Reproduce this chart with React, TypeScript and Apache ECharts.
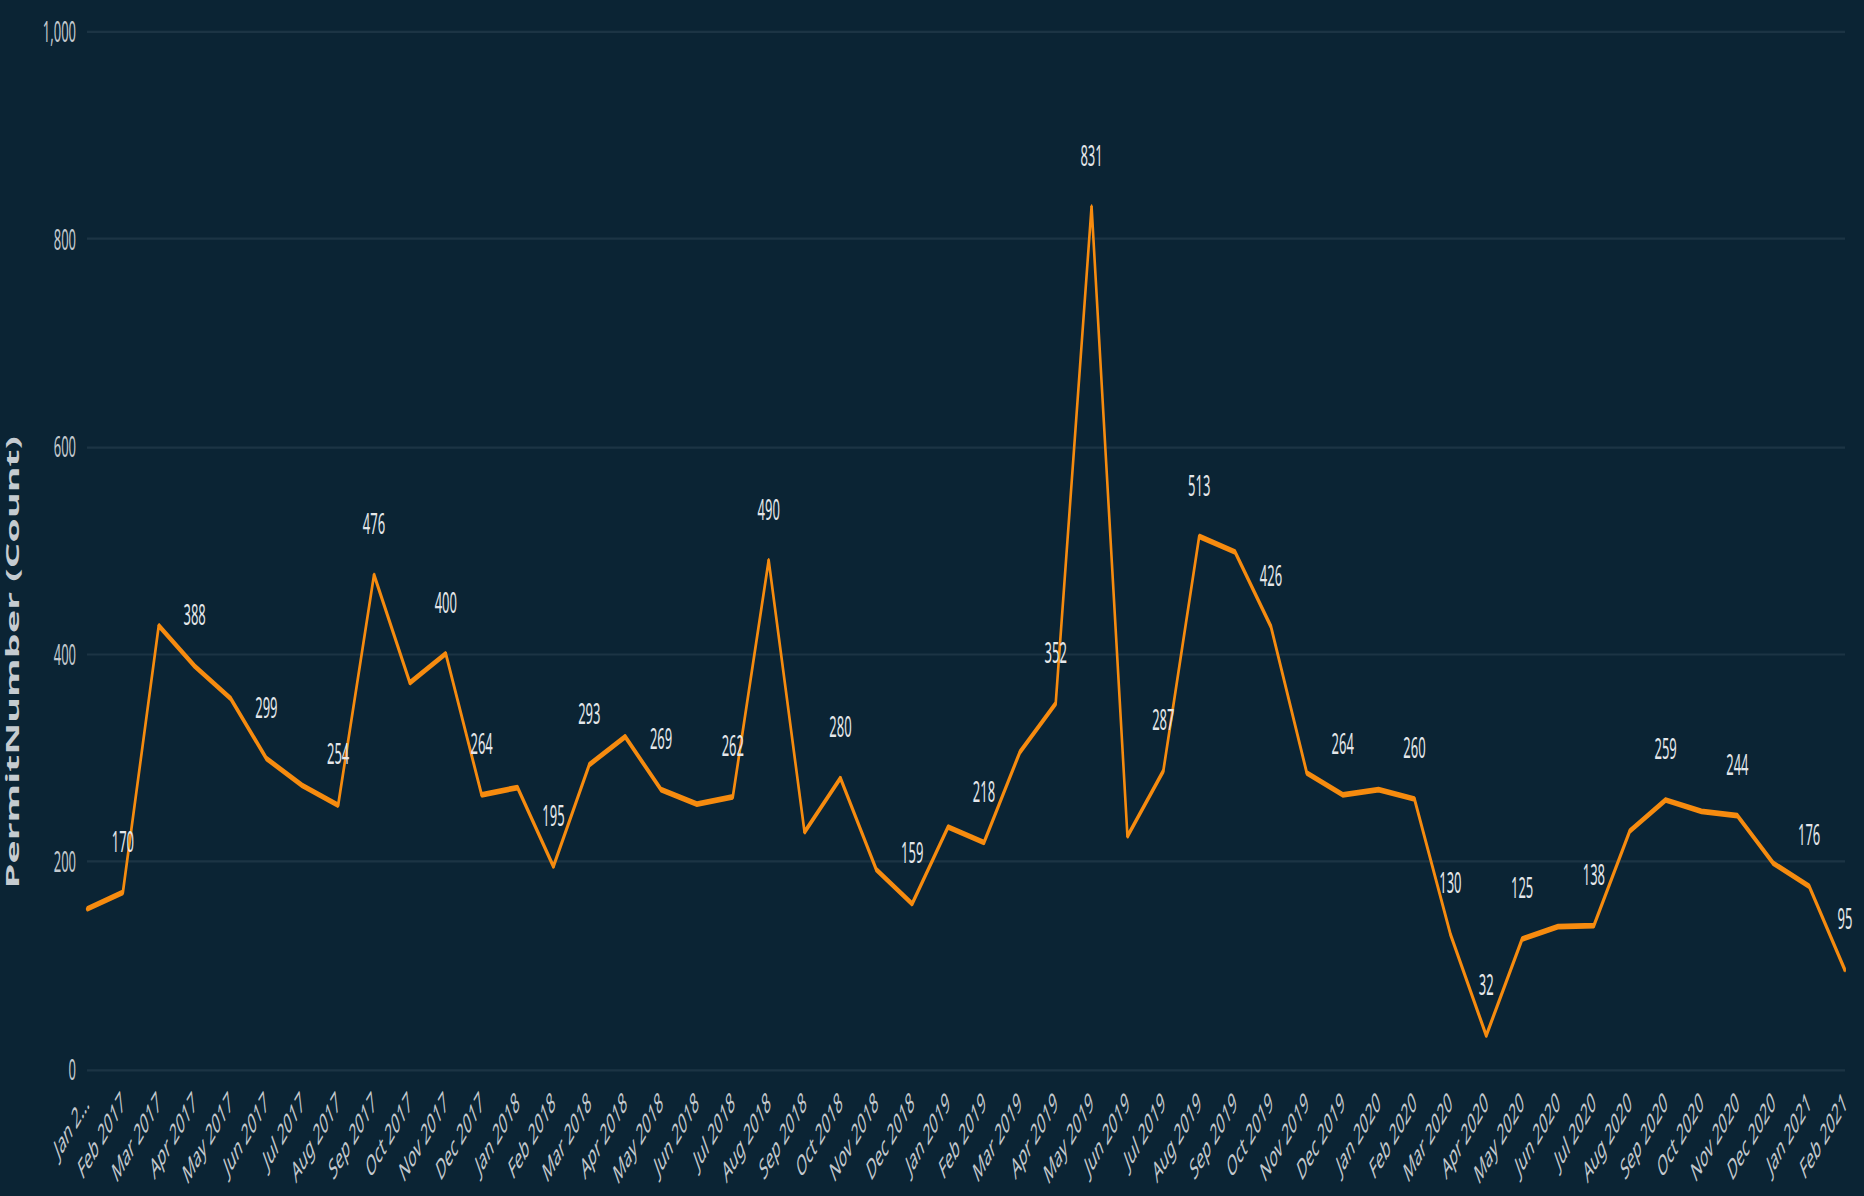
import React, { useEffect, useRef } from "react";
import * as echarts from "echarts";

// ---- data ----
const months: string[] = [
  "Jan 2017", "Feb 2017", "Mar 2017", "Apr 2017", "May 2017", "Jun 2017",
  "Jul 2017", "Aug 2017", "Sep 2017", "Oct 2017", "Nov 2017", "Dec 2017",
  "Jan 2018", "Feb 2018", "Mar 2018", "Apr 2018", "May 2018", "Jun 2018",
  "Jul 2018", "Aug 2018", "Sep 2018", "Oct 2018", "Nov 2018", "Dec 2018",
  "Jan 2019", "Feb 2019", "Mar 2019", "Apr 2019", "May 2019", "Jun 2019",
  "Jul 2019", "Aug 2019", "Sep 2019", "Oct 2019", "Nov 2019", "Dec 2019",
  "Jan 2020", "Feb 2020", "Mar 2020", "Apr 2020", "May 2020", "Jun 2020",
  "Jul 2020", "Aug 2020", "Sep 2020", "Oct 2020", "Nov 2020", "Dec 2020",
  "Jan 2021", "Feb 2021",
];

const permitCounts: number[] = [
  154, 170, 427, 388, 357, 299, 273, 254, 476, 372, 400, 264,
  271, 195, 293, 320, 269, 255, 262, 490, 228, 280, 192, 159,
  233, 218, 305, 352, 831, 224, 287, 513, 498, 426, 285, 264,
  269, 260, 130, 32, 125, 137, 138, 229, 259, 248, 244, 198,
  176, 95,
];

const labeledMonths: string[] = [
  "Feb 2017", "Apr 2017", "Jun 2017", "Aug 2017", "Sep 2017", "Nov 2017",
  "Dec 2017", "Feb 2018", "Mar 2018", "May 2018", "Jul 2018", "Aug 2018",
  "Oct 2018", "Dec 2018", "Feb 2019", "Apr 2019", "May 2019", "Jul 2019",
  "Aug 2019", "Oct 2019", "Dec 2019", "Feb 2020", "Mar 2020", "Apr 2020",
  "May 2020", "Jul 2020", "Sep 2020", "Nov 2020", "Jan 2021", "Feb 2021",
];

const yTicks = { min: 0, max: 1000, interval: 200 };
const yAxisTitle = "PermitNumber (Count)";

// ---- style ----
const STRETCH = 2.2;
const FULL_H = 1196;
const BG = "#0b2434";
const LINE = "#f68b0f";
const AXIS_TEXT = "#c3c9ce";
const FONT = "'Noto Sans', 'Open Sans', sans-serif";

export default function App() {
  const ref = useRef<HTMLDivElement>(null);

  useEffect(() => {
    document.body.style.margin = "0";
    document.body.style.background = BG;
    if (!ref.current) return;
    const chart = echarts.init(ref.current, undefined, { renderer: "svg" });

    const seriesData = permitCounts.map((v, i) => ({
      value: v,
      label: { show: labeledMonths.includes(months[i]) },
    }));

    chart.setOption({
      animation: false,
      backgroundColor: BG,
      grid: {
        left: 87,
        right: 19,
        top: 31 / STRETCH,
        bottom: (FULL_H - 1068) / STRETCH,
        containLabel: false,
      },
      xAxis: {
        type: "category",
        data: months,
        boundaryGap: false,
        axisLine: { show: false },
        axisTick: { show: false },
        splitLine: { show: false },
        axisLabel: {
          interval: 0,
          rotate: 38,
          margin: 13,
          color: AXIS_TEXT,
          fontSize: 13,
          fontFamily: FONT,
          formatter: (v: string, i: number) => (i === 0 ? "Jan 2…" : v),
        },
      },
      yAxis: {
        type: "value",
        min: yTicks.min,
        max: yTicks.max,
        interval: yTicks.interval,
        axisLine: { show: false },
        axisTick: { show: false },
        axisLabel: {
          margin: 11,
          color: AXIS_TEXT,
          fontSize: 13,
          fontFamily: FONT,
          formatter: (v: number) => v.toLocaleString("en-US"),
        },
        splitLine: { lineStyle: { color: "#1c3444", width: 1 } },
      },
      graphic: [
        {
          type: "text",
          x: 12,
          y: 301,
          rotation: Math.PI / 2,
          style: {
            text: yAxisTitle,
            fill: "#c5cbd0",
            fontSize: 18,
            fontWeight: "bold",
            fontFamily: FONT,
            align: "center",
            verticalAlign: "middle",
          },
        },
      ],
      series: [
        {
          type: "line",
          data: seriesData,
          symbol: "circle",
          symbolSize: 2,
          showSymbol: true,
          itemStyle: { color: LINE },
          lineStyle: { color: LINE, width: 2.6 },
          label: {
            position: "top",
            distance: 16,
            color: "#e4e7ea",
            fontSize: 13,
            fontFamily: FONT,
          },
        },
      ],
    });

    return () => chart.dispose();
  }, []);

  return (
    <div
      ref={ref}
      style={{
        position: "fixed",
        left: 0,
        top: 0,
        width: "100vw",
        height: `calc(100vh / ${STRETCH})`,
        transform: `scaleY(${STRETCH})`,
        transformOrigin: "0 0",
        background: BG,
      }}
    />
  );
}
